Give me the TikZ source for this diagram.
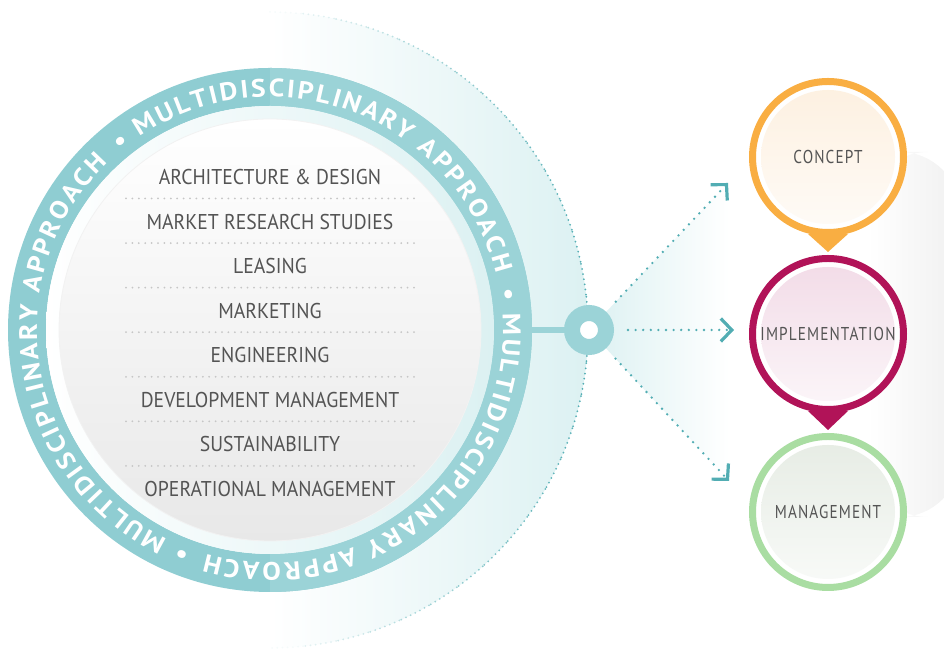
\documentclass[tikz,border=0pt]{standalone}
\usepackage{fontspec}
\setmainfont{PT Sans}
\newfontfamily\listfont{PT Sans}[FakeStretch=0.92]
\newfontfamily\stagefont{PT Sans}[FakeStretch=0.82, LetterSpace=6]
\newfontfamily\ringfont{PT Sans}[FakeStretch=1.1]
\usetikzlibrary{calc, arrows.meta, decorations.text}
\definecolor{ringTeal}{HTML}{8FCDD2}
\definecolor{ringLight}{HTML}{9BD3D7}
\definecolor{haloTeal}{HTML}{DCF1F2}
\definecolor{dotTeal}{HTML}{52ADB3}
\definecolor{textGray}{HTML}{545454}
\definecolor{sepGray}{HTML}{C6C6C6}
\definecolor{conceptOrange}{HTML}{F9AE42}
\definecolor{implRed}{HTML}{B11358}
\definecolor{mgmtGreen}{HTML}{A9DDA2}
\definecolor{conceptTint}{HTML}{FDF0E0}
\definecolor{implTint}{HTML}{F2DBE7}
\definecolor{mgmtTint}{HTML}{E6ECE4}

\tikzset{
  item/.style={font=\listfont\fontsize{10.7}{12}\selectfont, text=textGray, inner sep=0pt},
  sep/.style={sepGray, line width=1pt, dash pattern=on 0pt off 3.2pt, line cap=round},
  flow/.style={dotTeal, line width=1.3pt, dash pattern=on 0pt off 3.8pt, line cap=round, shorten <=7pt,
    -{Straight Barb[length=5.5pt, width=11.5pt, line width=1.6pt]}},
  stage/.style 2 args={circle, draw=#1, line width=3.5pt, fill=white, minimum size=75.5pt, inner sep=0pt,
    font=\stagefont\fontsize{9.3}{11}\selectfont, text=textGray,
    path picture={\shade[top color=#2, bottom color=#2!25!white] (path picture bounding box.center) circle (33.5pt);}},
}

\begin{document}
\begin{tikzpicture}[x=0.5pt, y=0.5pt, >=stealth]
    \useasboundingbox (0,0) rectangle (944,652);
    \coordinate (C) at (270,322);   % centre of the ring
    \coordinate (H) at (589,322);   % hub
    \coordinate (ringE) at (528,322);
    \coordinate (tipA) at (728,469);
    \coordinate (tipB) at (734,322);
    \coordinate (tipC) at (729,171);

    % grey card
    \shade[left color=white, right color=black!6, rounded corners=30pt] (868,135) rectangle (960,500);

    % halo and beam
    \shade[left color=white, right color=haloTeal] (C) ++(0,318) arc[start angle=90, end angle=-90, radius=318] -- cycle;
    \shade[left color=haloTeal, right color=white] (H) -- (tipA) -- (tipC) -- cycle;
    \foreach \s [evaluate=\s as \op using {cos(\s-3)}] in {90,84,...,-84}
        \draw[dotTeal, line width=1pt, dash pattern=on 0pt off 2.6pt, line cap=round, draw opacity=\op]
            (C) ++(\s:318) arc[start angle=\s, end angle=\s-6, radius=318];

    % ring
    \fill[ringTeal, even odd rule] (C) circle (262) (C) circle (224);
    \begin{scope}
        \clip (270,0) rectangle (944,652);
        \fill[ringLight, even odd rule] (C) circle (262) (C) circle (224);
    \end{scope}
    \shade[left color=white, right color=haloTeal, even odd rule] (C) circle (224) (C) circle (211);
    \shade[top color=white, bottom color=black!9, draw=black!5] (C) circle (211);

    % ring lettering
    \foreach \a in {130, 10, -110}
        \path[decorate, decoration={text along path, text color=white, text align=fit to path,
            text={|\ringfont\bfseries\fontsize{12.6}{13}\selectfont|• MULTIDISCIPLINARY APPROACH}}]
            (C) ++(\a:233) arc[start angle=\a, end angle=\a-116, radius=233];

    % disciplines
    \foreach \txt [count=\i from 0] in {ARCHITECTURE \& DESIGN, MARKET RESEARCH STUDIES, LEASING, MARKETING,
        ENGINEERING, DEVELOPMENT MANAGEMENT, SUSTAINABILITY, OPERATIONAL MANAGEMENT}
        \node[item] (d\i) at (270, 475-44.57*\i) {\txt};
    \foreach \i in {0,...,6}
        \draw[sep] (126, 453.5-44.57*\i) -- (416, 453.5-44.57*\i);

    % hub
    \node[circle, draw=ringLight, line width=8pt, fill=white, minimum size=17pt, inner sep=0pt] (hub) at (H) {};
    \draw[ringLight, line width=3pt] (ringE) -- (hub);
    \draw[flow] (hub) -- (tipA);
    \draw[flow] (hub) -- (tipB);
    \draw[flow] (hub) -- (tipC);

    % stages
    \node[stage={conceptOrange}{conceptTint}] (concept) at (828,495) {CONCEPT};
    \node[stage={implRed}{implTint}] (impl) at (828,318) {IMPLEMENTATION};
    \node[stage={mgmtGreen}{mgmtTint}] (mgmt) at (828,140) {MANAGEMENT};
    \fill[conceptOrange] ($(concept.south)+(-20,2)$) -- ($(concept.south)+(20,2)$) -- ($(impl.north)+(0,3)$) -- cycle;
    \fill[implRed] ($(impl.south)+(-20,2)$) -- ($(impl.south)+(20,2)$) -- ($(mgmt.north)+(0,3)$) -- cycle;
\end{tikzpicture}
\end{document}
